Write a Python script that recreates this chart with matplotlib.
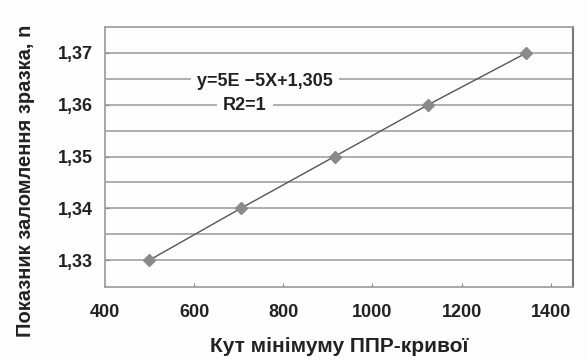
import matplotlib
matplotlib.use("Agg")
import matplotlib.pyplot as plt
import numpy as np

# Measured refractive index vs. SPR-curve minimum angle
angle = [500, 705, 915, 1125, 1345]
n_index = [1.33, 1.34, 1.35, 1.36, 1.37]
x_ticks = [400, 600, 800, 1000, 1200, 1400]
y_ticks = [1.33, 1.34, 1.35, 1.36, 1.37]
y_grid = [1.33, 1.335, 1.34, 1.345, 1.35, 1.355, 1.36, 1.365, 1.37]

FONT = ['Liberation Sans', 'DejaVu Sans']
plt.rcParams['font.family'] = FONT

fig = plt.figure(figsize=(5.86, 3.61), dpi=100)
fig.patch.set_facecolor('#fdfdfd')
ax = fig.add_axes([0.179, 0.205, 0.799, 0.720])
ax.set_facecolor('#fdfdfd')

for g in y_grid:
    ax.axhline(g, color='#a8a8a8', lw=1.3, zorder=1)

ax.plot(angle, n_index, color='#555555', lw=1.0, zorder=3,
        marker='D', markersize=6, markerfacecolor='#8a8a8a',
        markeredgecolor='#8a8a8a')

ax.set_xlim(400, 1450)
ax.set_ylim(1.3248, 1.375)
ax.set_xticks(x_ticks)
ax.set_yticks(y_ticks)
ax.set_xticklabels([str(v) for v in x_ticks])
ax.set_yticklabels([f"{v:.2f}".replace('.', ',') for v in y_ticks])
ax.tick_params(axis='both', direction='in', length=3, color='#888888',
               labelsize=13, labelcolor='#222222')
ax.tick_params(axis='x', pad=12)
ax.tick_params(axis='y', pad=9)
for lab in ax.get_xticklabels() + ax.get_yticklabels():
    lab.set_fontweight('bold')

for side in ['left', 'bottom', 'top']:
    ax.spines[side].set_color('#a0a0a0')
    ax.spines[side].set_linewidth(1.3)
ax.spines['right'].set_color('#777777')
ax.spines['right'].set_linewidth(1.5)

box = dict(boxstyle='square,pad=0.35', facecolor='#fdfdfd', edgecolor='none')
ax.text(759, 1.3644, 'y=5E \u22125X+1,305', fontsize=13, fontweight='bold',
        color='#222222', ha='center', va='center', zorder=4, bbox=box)
ax.text(714, 1.3598, 'R2=1', fontsize=13, fontweight='bold',
        color='#222222', ha='center', va='center', zorder=4, bbox=box)

ax.set_xlabel('Кут мінімуму ППР-кривої', fontsize=15, fontweight='bold',
              color='#222222', labelpad=12)
ax.set_ylabel('Показник заломлення зразка, n', fontsize=14.5,
              fontweight='bold', color='#222222')
ax.yaxis.set_label_coords(-0.15, 0.41)

fig.savefig('out.png', dpi=100, facecolor=fig.get_facecolor())
